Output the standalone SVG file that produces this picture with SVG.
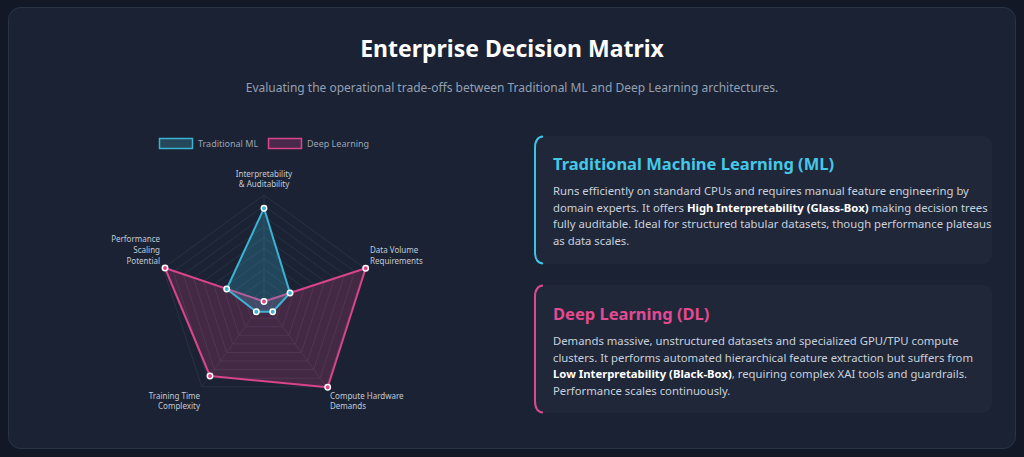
<svg xmlns="http://www.w3.org/2000/svg" width="1024" height="457" viewBox="0 0 1024 457">
<style>
text{font-family:"Noto Sans","Open Sans","Liberation Sans",sans-serif}
.ax{font-size:8px;fill:#c4cad4}
.grid{fill:none;stroke:#2c3648;stroke-width:0.8}
.body{font-size:11.3px;fill:#c9d1dc}
.b{font-weight:bold;fill:#ffffff}
.card{fill:#1f2739}
.pt{stroke:#ffffff;stroke-width:1.5}
</style>
<rect width="1024" height="457" fill="#121826"/>
<rect x="8.5" y="7.5" width="1007" height="441" rx="12" fill="#1a2233" stroke="#2a3447"/>
<text x="512" y="57" text-anchor="middle" font-size="23" font-weight="bold" fill="#ffffff">Enterprise Decision Matrix</text>
<text x="512" y="92" text-anchor="middle" font-size="12" fill="#94a0b4">Evaluating the operational trade-offs between Traditional ML and Deep Learning architectures.</text>

<g id="legend">
<rect x="159.5" y="138.5" width="33" height="10" fill="#26475a" stroke="#3bb4d4" stroke-width="1.5"/>
<text x="198" y="147" font-size="9" fill="#9aa4b4">Traditional ML</text>
<rect x="268.5" y="138.5" width="33" height="10" fill="#4a2a4c" stroke="#d9448a" stroke-width="1.5"/>
<text x="307" y="147" font-size="9" fill="#9aa4b4">Deep Learning</text>
</g>

<g id="radar">
<g class="grid">
<polygon points="264,195 364.8,268.2 326.3,386.8 201.7,386.8 163.2,268.2"/>
<polygon points="264,205.6 354.7,271.5 320.1,378.2 207.9,378.2 173.3,271.5"/>
<polygon points="264,216.2 344.6,274.8 313.8,369.6 214.2,369.6 183.4,274.8"/>
<polygon points="264,226.8 334.6,278.1 307.6,361.0 220.4,361.0 193.4,278.1"/>
<polygon points="264,237.4 324.5,281.3 301.4,352.5 226.6,352.5 203.5,281.3"/>
<polygon points="264,248 314.4,284.6 295.2,343.9 232.8,343.9 213.6,284.6"/>
<polygon points="264,258.6 304.3,287.9 288.9,335.3 239.1,335.3 223.7,287.9"/>
<polygon points="264,269.2 294.2,291.2 282.7,326.7 245.3,326.7 233.8,291.2"/>
<polygon points="264,279.8 284.2,294.4 276.5,318.2 251.5,318.2 243.8,294.4"/>
<polygon points="264,290.4 274.1,297.7 270.2,309.6 257.8,309.6 253.9,297.7"/>
<path d="M264,301 L264,195 M264,301 L364.8,268.2 M264,301 L326.3,386.8 M264,301 L201.7,386.8 M264,301 L163.2,268.2"/>
</g>
<polygon points="264,301.5 365.7,268.3 327.7,387.3 210,376 165,268" fill="#d9448a" fill-opacity="0.22" stroke="#d9448a" stroke-width="2" stroke-linejoin="round"/>
<polygon points="264,208.3 290,293 272.7,311.7 256.3,311.7 226.7,289" fill="#3bb4d4" fill-opacity="0.25" stroke="#3bb4d4" stroke-width="2" stroke-linejoin="round"/>
<g fill="#d9448a" class="pt">
<circle cx="264" cy="301.5" r="2.7"/><circle cx="365.7" cy="268.3" r="2.7"/><circle cx="327.7" cy="387.3" r="2.7"/><circle cx="210" cy="376" r="2.7"/><circle cx="165" cy="268" r="2.7"/>
</g>
<g fill="#3bb4d4" class="pt">
<circle cx="264" cy="208.3" r="2.7"/><circle cx="290" cy="293" r="2.7"/><circle cx="272.7" cy="311.7" r="2.7"/><circle cx="256.3" cy="311.7" r="2.7"/><circle cx="226.7" cy="289" r="2.7"/>
</g>
<text class="ax" text-anchor="middle"><tspan x="264" y="177">Interpretability</tspan><tspan x="264" y="187">&amp; Auditability</tspan></text>
<text class="ax"><tspan x="370" y="253">Data Volume</tspan><tspan x="370" y="264">Requirements</tspan></text>
<text class="ax"><tspan x="330" y="399">Compute Hardware</tspan><tspan x="330" y="409">Demands</tspan></text>
<text class="ax" text-anchor="end"><tspan x="200" y="399">Training Time</tspan><tspan x="200" y="409">Complexity</tspan></text>
<text class="ax" text-anchor="end"><tspan x="160" y="242">Performance</tspan><tspan x="160" y="253">Scaling</tspan><tspan x="160" y="264">Potential</tspan></text>
</g>

<g id="card-ml">
<rect class="card" x="534" y="136" width="458" height="128" rx="9"/>
<path d="M543,136.5 Q535,137 535,148 L535,252 Q535,263 543,263.5" fill="none" stroke="#3bc4e4" stroke-width="2"/>
<text x="553" y="170" font-size="16.5" font-weight="bold" fill="#45c8e6">Traditional Machine Learning (ML)</text>
<text class="body"><tspan x="553" y="195">Runs efficiently on standard CPUs and requires manual feature engineering by</tspan><tspan x="553" y="211.5">domain experts. It offers <tspan class="b">High Interpretability (Glass-Box)</tspan> making decision trees</tspan><tspan x="553" y="228">fully auditable. Ideal for structured tabular datasets, though performance plateaus</tspan><tspan x="553" y="244.5">as data scales.</tspan></text>
</g>

<g id="card-dl">
<rect class="card" x="534" y="285" width="458" height="128" rx="9"/>
<path d="M543,285.5 Q535,286 535,297 L535,401 Q535,412 543,412.5" fill="none" stroke="#dc4a8e" stroke-width="2"/>
<text x="553" y="320" font-size="16.5" font-weight="bold" fill="#e24b91">Deep Learning (DL)</text>
<text class="body"><tspan x="553" y="345">Demands massive, unstructured datasets and specialized GPU/TPU compute</tspan><tspan x="553" y="361.5">clusters. It performs automated hierarchical feature extraction but suffers from</tspan><tspan x="553" y="378"><tspan class="b">Low Interpretability (Black-Box)</tspan>, requiring complex XAI tools and guardrails.</tspan><tspan x="553" y="394.5">Performance scales continuously.</tspan></text>
</g>
</svg>
